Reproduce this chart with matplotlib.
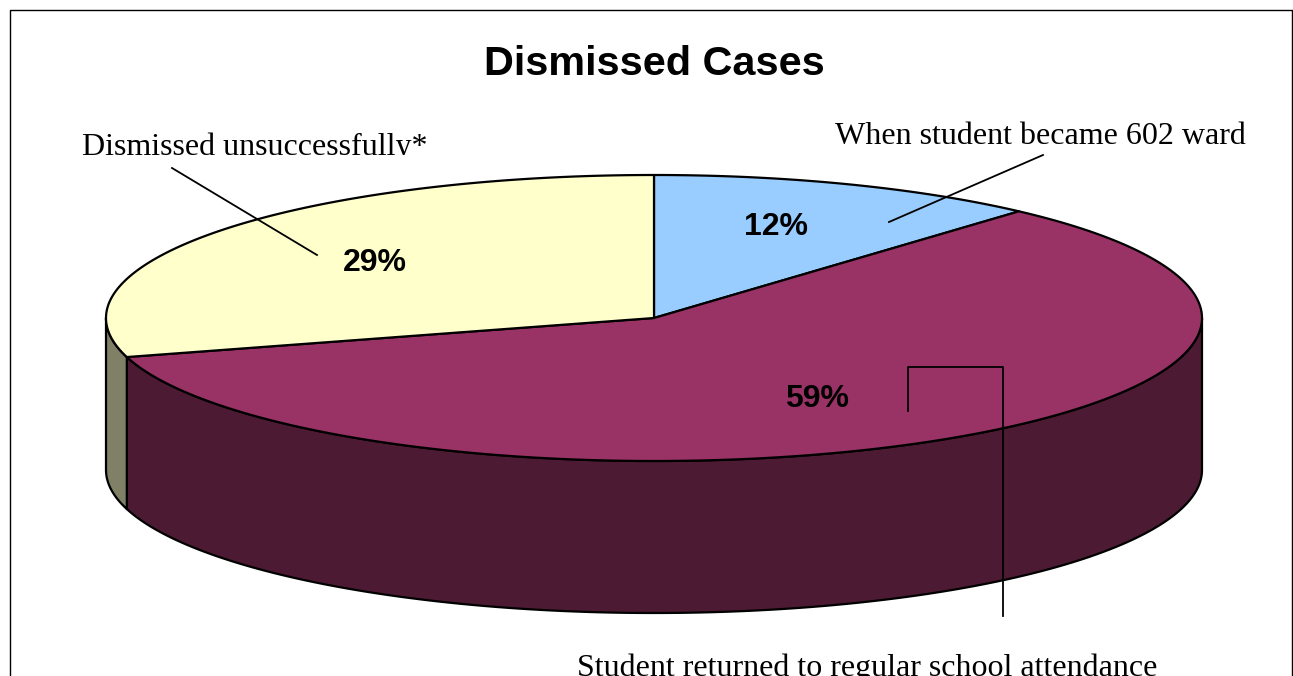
import numpy as np
import matplotlib
matplotlib.use('Agg')
import matplotlib.pyplot as plt
from matplotlib.patches import Polygon, Rectangle

title = 'Dismissed Cases'
categories = ['When student became 602 ward', 'Student returned to regular school attendance', 'Dismissed unsuccessfully*']
values = [11.6, 59.0, 29.4]
top_colors = ['#99CCFF', '#993366', '#FFFFCC']
side_colors = ['#4D6680', '#4D1A33', '#808066']

# pie geometry in pixels
cx, cy = 654, 318
rx, ry = 548, 143
depth = 152
lw = 1.6


def rim(a0, a1, drop=0):
    # angles in degrees, clockwise from the top of the pie
    a = np.radians(np.linspace(a0, a1, 200))
    return np.column_stack([cx + rx * np.sin(a), cy - ry * np.cos(a) + drop])


fig = plt.figure(figsize=(12.93, 6.76), dpi=100)
ax = fig.add_axes([0, 0, 1, 1])
ax.set_xlim(0, 1293)
ax.set_ylim(676, 0)
ax.axis('off')

# frame of the chart, runs off the bottom
ax.plot([10, 10, 1292, 1292], [676, 10, 10, 676], color='black', lw=1.0)

# side walls first, only the part facing the viewer
edges = np.cumsum([0] + values) * 360 / sum(values)
for i in range(len(values)):
    a0 = max(edges[i], 90)
    a1 = min(edges[i + 1], 270)
    if a1 <= a0:
        continue
    front = rim(a0, a1)
    back = rim(a0, a1, depth)[::-1]
    ax.add_patch(Polygon(np.vstack([front, back]), closed=True, fc=side_colors[i], ec='black', lw=lw, joinstyle='round'))

# top slices
for i in range(len(values)):
    pts = np.vstack([[cx, cy], rim(edges[i], edges[i + 1])])
    ax.add_patch(Polygon(pts, closed=True, fc=top_colors[i], ec='black', lw=lw, joinstyle='round'))

# percent labels
pct_x = [776, 817, 375]
pct_y = [227, 399, 263]
for v, x, y in zip(values, pct_x, pct_y):
    ax.text(x, y, f'{v:.0f}%', ha='center', va='center', fontsize=23, fontweight='bold', family='Liberation Sans', color='black')

ax.text(654, 64, title, ha='center', va='center', fontsize=29.8, fontweight='bold', family='Liberation Sans', color='black')

# leader lines
ax.plot([172, 317], [168, 255], color='black', lw=1.3)
ax.plot([1043, 889], [155, 222], color='black', lw=1.3)
ax.plot([908, 908, 1003, 1003], [411, 367, 367, 616], color='black', lw=1.3)

# slice names, the source cuts them off at the bottom of their boxes
label_x = [1040, 867, 255]
label_base = [144, 676, 155]
for name, x, y in zip(categories, label_x, label_base):
    t = ax.text(x, y, name, ha='center', va='baseline', fontsize=23, family='Liberation Serif', color='black')
    t.set_clip_path(Rectangle((0, 0), 1293, y, transform=ax.transData))
    t.set_clip_on(True)

plt.savefig('out.png', dpi=100)
